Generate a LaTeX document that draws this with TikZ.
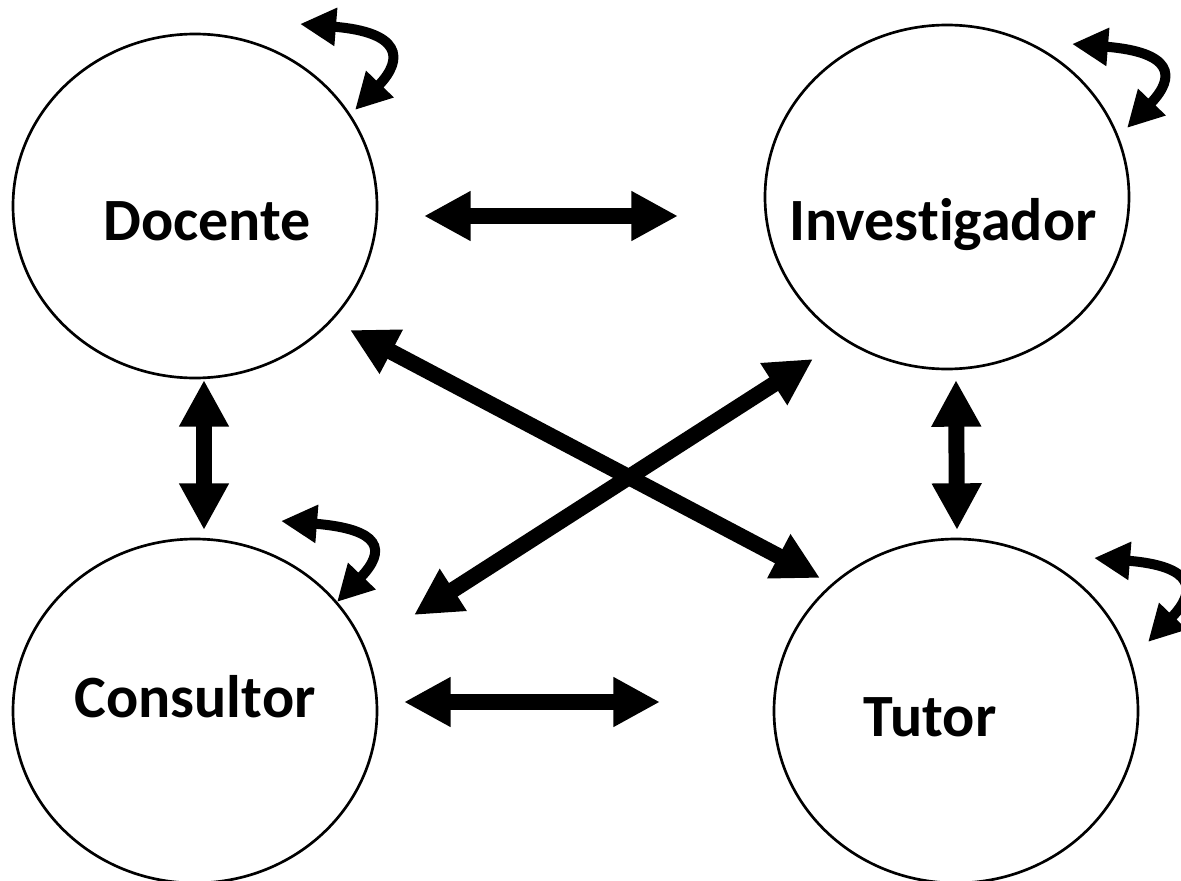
\documentclass[tikz,border=0pt]{standalone}
\usepackage{fontspec}
\setmainfont[Ligatures={NoCommon,NoRare,NoContextual}]{Carlito}
\usetikzlibrary{arrows.meta,shapes.geometric}
\begin{document}
\begin{tikzpicture}[x=0.75pt,y=-0.75pt,
  role/.style={draw=black,line width=2pt,ellipse,minimum width=273pt,minimum height=258pt,inner sep=0pt},
  lbl/.style={anchor=base,font=\fontsize{45}{52}\selectfont\bfseries,inner sep=0pt},
  biarrow/.style={line width=12pt,{Triangle[length=35pt,width=35pt]}-{Triangle[length=35pt,width=35pt]}},
  selfarrow/.style={line width=7.5pt,{Triangle[length=27pt,width=27pt]}-{Triangle[length=27pt,width=27pt]}}
]
\useasboundingbox (0,0) rectangle (1181,881);
\fill[white] (0,0) rectangle (1181,881);

% role circles
\node[role] (doc) at (195,206) {};
\node[role] (inv) at (947,197) {};
\node[role] (con) at (195,711) {};
\node[role] (tut) at (956,711) {};

% labels
\node[lbl] (docl) at (207,240) {Docente};
\node[lbl] (invl) at (943,240) {Investigador};
\node[lbl] (conl) at (195,717) {Consultor};
\node[lbl] (tutl) at (930,736) {Tutor};

% connector end points
\coordinate (di1) at (424,216);
\coordinate (di2) at (678,216);
\coordinate (ct1) at (404,702);
\coordinate (ct2) at (660,702);
\coordinate (dc1) at (204,380);
\coordinate (dc2) at (204,530);
\coordinate (it1) at (956,380);
\coordinate (it2) at (957,530);
\coordinate (dt1) at (350,330);
\coordinate (dt2) at (820,578);
\coordinate (ic1) at (813,359);
\coordinate (ic2) at (414,615);

\draw[biarrow] (di1) -- (di2);
\draw[biarrow] (ct1) -- (ct2);
\draw[biarrow] (dc1) -- (dc2);
\draw[biarrow] (it1) -- (it2);
\draw[biarrow] (dt1) -- (dt2);
\draw[biarrow] (ic1) -- (ic2);

% self loops
\coordinate (ds) at (300,24);   \coordinate (de) at (355,110);
\coordinate (is) at (1072,44);  \coordinate (ie) at (1127,128);
\coordinate (cs) at (281,521);  \coordinate (ce) at (337,602);
\coordinate (ts) at (1094,558); \coordinate (te) at (1148,642);

\draw[selfarrow] (ds) .. controls +(100,8) and +(50,-52) .. (de);
\draw[selfarrow] (is) .. controls +(100,8) and +(50,-52) .. (ie);
\draw[selfarrow] (cs) .. controls +(100,8) and +(50,-52) .. (ce);
\draw[selfarrow] (ts) .. controls +(100,8) and +(50,-52) .. (te);
\end{tikzpicture}
\end{document}
